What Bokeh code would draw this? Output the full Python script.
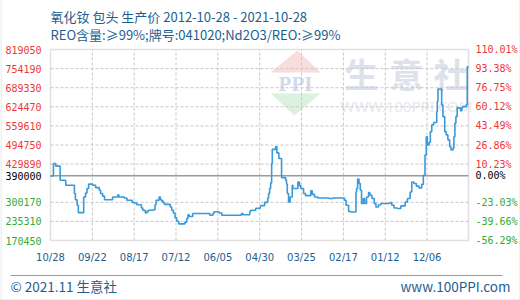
import pandas as pd
from bokeh.plotting import figure
from bokeh.models import (Range1d, Label, ColumnDataSource, BoxAnnotation, PolyAnnotation)
from bokeh.core.properties import value
from bokeh.embed import file_html
from bokeh.resources import INLINE

# ---------------- data ----------------
title_line1 = "氧化钕 包头 生产价 2012-10-28 - 2021-10-28"
title_line2 = "REO含量:≥99%;牌号:041020;Nd2O3/REO:≥99%"
footer_left = "© 2021.11 生意社"
footer_right = "www.100PPI.com"

start_date = "2012-10-28"
end_date = "2021-10-28"
base_price = 390000

dates = [
    "2012-10-28", "2012-11-20", "2012-12-08", "2013-01-12", "2013-02-25", "2013-05-04",
    "2013-05-12", "2013-05-25", "2013-06-04", "2013-07-16", "2013-07-31", "2013-08-11",
    "2013-08-24", "2013-09-24", "2013-10-18", "2013-11-16", "2013-11-26", "2013-12-12",
    "2013-12-27", "2014-02-28", "2014-04-11", "2014-04-18", "2014-05-31", "2014-06-21",
    "2014-08-01", "2014-08-17", "2014-09-07", "2014-10-13", "2014-10-24", "2014-11-13",
    "2014-11-24", "2014-12-05", "2015-01-15", "2015-01-28", "2015-02-05", "2015-03-01",
    "2015-03-11", "2015-03-22", "2015-04-03", "2015-04-14", "2015-05-28", "2015-06-08",
    "2015-06-21", "2015-07-04", "2015-07-17", "2015-08-02", "2015-09-20", "2015-10-04",
    "2015-10-14", "2015-10-24", "2015-11-20", "2016-04-03", "2016-04-27", "2016-05-05",
    "2016-06-15", "2016-07-06", "2016-12-08", "2016-12-20", "2017-02-11", "2017-02-18",
    "2017-03-30", "2017-05-05", "2017-05-10", "2017-06-08", "2017-07-02", "2017-07-09",
    "2017-07-17", "2017-07-25", "2017-08-02", "2017-08-07", "2017-09-02", "2017-09-12",
    "2017-09-28", "2017-10-19", "2017-11-20", "2017-11-27", "2017-12-03", "2017-12-13",
    "2017-12-26", "2018-01-11", "2018-01-16", "2018-02-24", "2018-03-09", "2018-03-19",
    "2018-04-10", "2018-04-25", "2018-06-06", "2018-06-17", "2018-07-05", "2018-07-31",
    "2018-10-25", "2018-11-25", "2019-02-25", "2019-03-10", "2019-03-30", "2019-04-18",
    "2019-05-27", "2019-06-01", "2019-06-09", "2019-06-20", "2019-06-30", "2019-07-10",
    "2019-07-24", "2019-08-03", "2019-08-18", "2019-09-03", "2019-09-14", "2019-09-30",
    "2019-10-18", "2019-10-31", "2019-11-20", "2019-12-09", "2020-02-18", "2020-03-04",
    "2020-03-22", "2020-04-17", "2020-05-14", "2020-06-17", "2020-07-05", "2020-07-26",
    "2020-08-08", "2020-08-24", "2020-09-13", "2020-10-04", "2020-10-25", "2020-11-07",
    "2020-11-20", "2020-11-30", "2020-12-08", "2020-12-22", "2021-01-01", "2021-01-12",
    "2021-01-27", "2021-02-20", "2021-02-25", "2021-03-02", "2021-03-31", "2021-04-10",
    "2021-04-24", "2021-05-06", "2021-05-19", "2021-06-02", "2021-06-12", "2021-06-28",
    "2021-07-05", "2021-07-13", "2021-07-21", "2021-07-31", "2021-08-08", "2021-08-27",
    "2021-09-06", "2021-09-14", "2021-10-10", "2021-10-18", "2021-10-28",
]
prices = [
    390000, 432000, 423000, 375000, 358000, 330000,
    309000, 290000, 265000, 318000, 332000, 347000,
    362000, 358000, 350000, 341000, 330000, 321000,
    309000, 318000, 326000, 318000, 315000, 307000,
    300000, 298000, 292000, 281000, 273000, 264000,
    268000, 273000, 275000, 292000, 307000, 318000,
    309000, 304000, 298000, 293000, 284000, 273000,
    264000, 248000, 236000, 227000, 233000, 245000,
    258000, 252000, 262000, 256000, 262000, 268000,
    264000, 256000, 262000, 258000, 269000, 273000,
    280000, 287000, 289000, 300000, 315000, 330000,
    347000, 366000, 432000, 480000, 489000, 468000,
    449000, 384000, 375000, 362000, 330000, 301000,
    318000, 358000, 347000, 369000, 356000, 347000,
    330000, 323000, 339000, 327000, 318000, 315000,
    313000, 315000, 307000, 290000, 269000, 267000,
    335000, 347000, 379000, 364000, 341000, 296000,
    313000, 296000, 318000, 333000, 324000, 313000,
    296000, 284000, 292000, 296000, 299000, 290000,
    281000, 279000, 288000, 301000, 313000, 335000,
    369000, 364000, 355000, 349000, 361000, 392000,
    461000, 523000, 495000, 504000, 540000, 563000,
    571000, 608000, 643000, 685000, 631000, 591000,
    540000, 529000, 512000, 489000, 478000, 484000,
    523000, 569000, 591000, 622000, 620000, 611000,
    622000, 625000, 631000, 760000, 760000,
]

y_ticks = [170450, 235310, 300170, 390000, 429890, 494750, 559610, 624470, 689330, 754190, 819050]
y_tick_labels = ["170450", "235310", "300170", "390000", "429890", "494750",
                 "559610", "624470", "689330", "754190", "819050"]
pct_tick_labels = ["-56.29%", "-39.66%", "-23.03%", "0.00%", "10.23%", "26.86%",
                   "43.49%", "60.12%", "76.75%", "93.38%", "110.01%"]
x_tick_dates = ["2012-10-28", "2013-09-22", "2014-08-17", "2015-07-12", "2016-06-05",
                "2017-04-30", "2018-03-25", "2019-02-17", "2020-01-12", "2020-12-06"]
x_tick_labels = ["10/28", "09/22", "08/17", "07/12", "06/05",
                 "04/30", "03/25", "02/17", "01/12", "12/06"]

# ---------------- styling / layout ----------------
BLUE_TEXT = "#1c5e92"
LINE_COLOR = "#3a99d8"
RED = "#ee3636"
GREEN = "#33aa33"
GRAY = "#9a9a9a"
GRID = "#c8c8c8"

W, H = 520, 300
PL, PR, PT, PB = 50, 468, 49, 240   # plotting-area edges in canvas pixels


def sx(cx):  # canvas x -> screen units used by annotations
    return cx


def sy(cy):  # canvas y (down) -> screen units (up from bottom)
    return H - cy


t0, t1 = pd.Timestamp(start_date), pd.Timestamp(end_date)
y0, y1 = y_ticks[0], y_ticks[-1]
# ranges padded so that the data domain lands on the plotting area
dx = (t1 - t0) / (PR - PL)
dy = (y1 - y0) / (PB - PT)
x_range = Range1d(t0 - dx * PL, t1 + dx * (W - PR))
y_range = Range1d(y0 - dy * (H - PB), y1 + dy * PT)

p = figure(width=W, height=H, x_axis_type="datetime", x_range=x_range, y_range=y_range,
           output_backend="svg", toolbar_location=None,
           x_axis_location=None, y_axis_location=None, min_border=0)
p.grid.visible = False
p.background_fill_color = "white"
p.border_fill_color = "white"
p.outline_line_color = None

# watermark (under everything)
wm_col = "#dde1eb"
for ch, cx in zip("生意社", [361, 406, 450]):
    p.add_layout(Label(x=sx(cx), y=sy(73), x_units="screen", y_units="screen", text=ch,
                       text_align="center", text_baseline="middle",
                       text_font="Noto Sans CJK SC", text_font_style="bold",
                       text_font_size="34px", text_color=wm_col, level="image"))
p.add_layout(Label(x=sx(406), y=sy(105), x_units="screen", y_units="screen",
                   text="WWW.100PPI.COM", text_align="center", text_baseline="middle",
                   text_font="Noto Sans", text_font_size="15px",
                   text_color="#e6e8ef", level="image"))
p.add_layout(PolyAnnotation(xs=[sx(270), sx(320), sx(297)], ys=[sy(72), sy(72), sy(50)],
                            xs_units="screen", ys_units="screen", fill_color="#fadcda",
                            fill_alpha=1, line_alpha=0, level="image"))
p.add_layout(PolyAnnotation(xs=[sx(270), sx(320), sx(294)], ys=[sy(93), sy(93), sy(115)],
                            xs_units="screen", ys_units="screen", fill_color="#dcf1de",
                            fill_alpha=1, line_alpha=0, level="image"))
p.add_layout(Label(x=sx(295), y=sy(83), x_units="screen", y_units="screen", text="PPI",
                   text_align="center", text_baseline="middle",
                   text_font="Liberation Serif", text_font_style="bold",
                   text_font_size="21px", text_color="#d4d9ea", level="image"))

# grid lines (dashed), drawn at tick values through the scales
xt = pd.to_datetime(x_tick_dates)
p.segment(x0=list(xt[1:]), x1=list(xt[1:]), y0=[y0] * (len(xt) - 1), y1=[y1] * (len(xt) - 1),
          line_color=GRID, line_dash="3 2", line_width=1)
gy = [v for v in y_ticks[1:-1] if v != base_price]
p.segment(x0=[t0] * len(gy), x1=[t1] * len(gy), y0=gy, y1=gy,
          line_color=GRID, line_dash="3 2", line_width=1)
# base-price line
p.segment(x0=[t0], x1=[t1], y0=[base_price], y1=[base_price], line_color=GRAY, line_width=1.5)

# price series
src = ColumnDataSource(dict(x=pd.to_datetime(dates), y=prices))
p.step("x", "y", source=src, mode="after", line_color=LINE_COLOR, line_width=1.6)

# plot-area border
p.add_layout(BoxAnnotation(left=t0, right=t1, bottom=y0, top=y1, fill_alpha=0,
                           line_color=GRAY, line_width=1.5))

# y tick labels, coloured by sign relative to base price
cols = [RED if v > base_price else ("#000000" if v == base_price else GREEN) for v in y_ticks]
p.text(x=[t0] * len(y_ticks), y=y_ticks, text=y_tick_labels, x_offset=-9,
       text_color=cols, text_align="right", text_baseline="middle",
       text_font=value("DejaVu Sans Mono"), text_font_size="10px")
p.text(x=[t1] * len(y_ticks), y=y_ticks, text=pct_tick_labels, x_offset=7,
       text_color=cols, text_align="left", text_baseline="middle",
       text_font=value("DejaVu Sans Mono"), text_font_size="10px")
# x tick labels
p.text(x=list(xt), y=[y0] * len(xt), text=x_tick_labels, y_offset=17,
       text_color=BLUE_TEXT, text_align="center", text_baseline="middle",
       text_font=value("DejaVu Sans"), text_font_size="10px")

# titles
for txt, cy in ((title_line1, 16), (title_line2, 34)):
    p.add_layout(Label(x=sx(50), y=sy(cy), x_units="screen", y_units="screen", text=txt,
                       text_align="left", text_baseline="middle",
                       text_font="Noto Sans CJK SC", text_font_size="13px",
                       text_color=BLUE_TEXT))

# footer
p.add_layout(BoxAnnotation(left=sx(10), right=sx(502), bottom=sy(275.5), top=sy(274.5),
                           left_units="screen", right_units="screen", bottom_units="screen",
                           top_units="screen", fill_color=GRAY, fill_alpha=1, line_alpha=0))
p.add_layout(Label(x=sx(10), y=sy(285), x_units="screen", y_units="screen", text=footer_left,
                   text_align="left", text_baseline="middle",
                   text_font="Noto Sans CJK SC", text_font_size="13.5px",
                   text_color=BLUE_TEXT))
p.add_layout(Label(x=sx(510), y=sy(285), x_units="screen", y_units="screen", text=footer_right,
                   text_align="right", text_baseline="middle",
                   text_font="Noto Sans CJK SC", text_font_size="13.5px",
                   text_color=BLUE_TEXT))

# outer frame (left, right, bottom)
p.add_layout(BoxAnnotation(left=sx(0.5), right=sx(519.5), bottom=sy(299.5), top=sy(-5),
                           left_units="screen", right_units="screen", bottom_units="screen",
                           top_units="screen", fill_alpha=0, line_color=GRAY, line_width=1))

open("out.html", "w").write(file_html(p, INLINE))
